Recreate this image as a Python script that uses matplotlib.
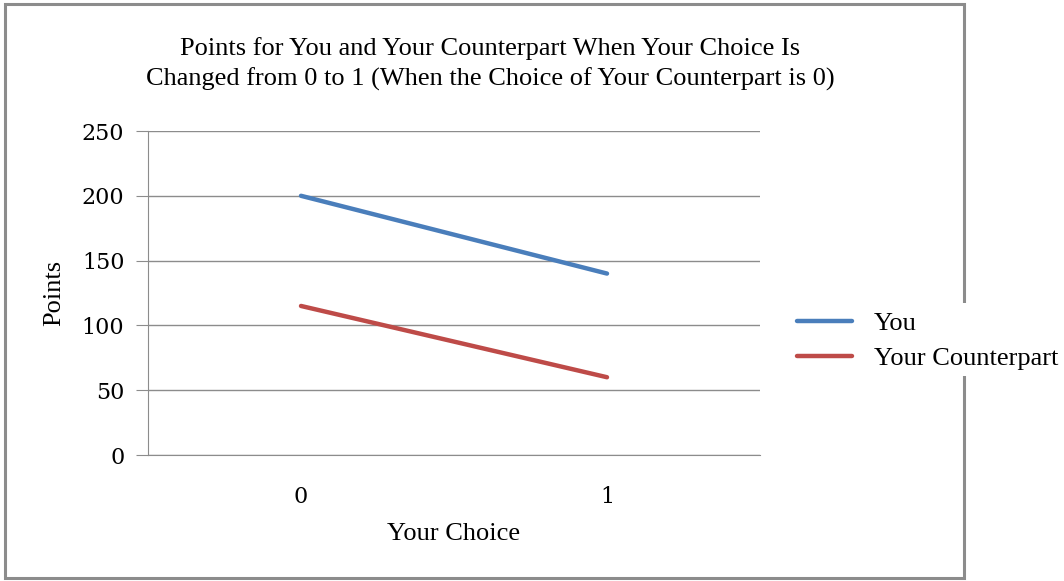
import numpy as np
import matplotlib.pyplot as plt
from matplotlib.patches import Rectangle

# data
choices = ['0', '1']
you = [200, 140]
counterpart = [115, 60]
yticks = [0, 50, 100, 150, 200, 250]

W, H = 1064, 581
fig = plt.figure(figsize=(W / 100, H / 100), dpi=100)
serif = ['Liberation Serif', 'DejaVu Serif']

# outer chart border
fig.patches.append(Rectangle((5 / W, 3 / H), 959 / W, 574 / H, transform=fig.transFigure,
                             fill=False, edgecolor='#8c8c8c', linewidth=2.2))

ax = fig.add_axes([148 / W, 1 - 455 / H, 612 / W, 324 / H])
x = np.arange(len(choices))
ax.plot(x, you, color='#4a7ebb', linewidth=3.2, solid_capstyle='round', label='You')
ax.plot(x, counterpart, color='#be4b48', linewidth=3.2, solid_capstyle='round', label='Your Counterpart')

ax.set_xlim(-0.5, 1.5)
ax.set_ylim(0, 250)
ax.set_yticks(yticks)
ax.set_xticks(x)
ax.set_xticklabels(choices)
ax.grid(axis='y', color='#8c8c8c', linewidth=1)
ax.set_axisbelow(True)
for s in ['top', 'right']:
    ax.spines[s].set_visible(False)
ax.spines['left'].set_color('#8c8c8c')
ax.spines['bottom'].set_color('#8c8c8c')
ax.tick_params(axis='y', length=9, color='#8c8c8c', pad=8,
               labelfontfamily='DejaVu Serif', labelsize=16)
ax.tick_params(axis='x', length=0, pad=22,
               labelfontfamily='DejaVu Serif', labelsize=16)

ax.set_xlabel('Your Choice', family=serif, fontsize=19, labelpad=11)
ax.set_ylabel('Points', family=serif, fontsize=19, labelpad=12)

fig.text(490 / W, 1 - 64 / H,
         'Points for You and Your Counterpart When Your Choice Is\n'
         'Changed from 0 to 1 (When the Choice of Your Counterpart is 0)',
         ha='center', va='center', family=serif, fontsize=19, linespacing=1.45)

# legend sits on a white box that covers the border
fig.patches.append(Rectangle((790 / W, 1 - 376 / H), 274 / W, 73 / H, transform=fig.transFigure,
                             facecolor='white', edgecolor='none', zorder=5))
leg = fig.legend(loc='center left', bbox_to_anchor=(797 / W, 1 - 341 / H), frameon=False,
                 prop={'family': serif, 'size': 19}, handlelength=2.1, handletextpad=0.8,
                 labelspacing=0.45, borderaxespad=0, borderpad=0)
leg.set_zorder(6)

fig.savefig('out.png', dpi=100)
